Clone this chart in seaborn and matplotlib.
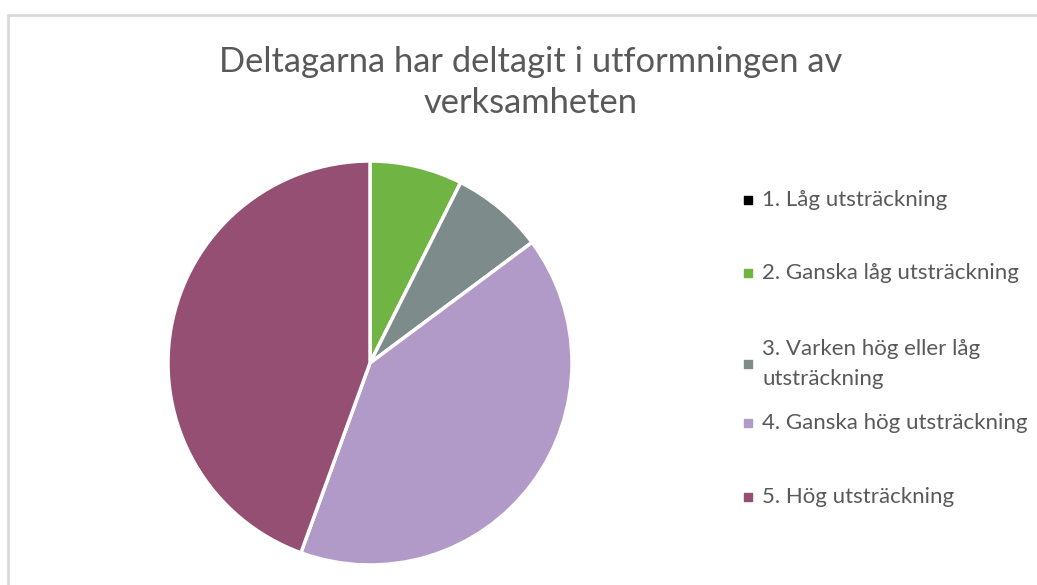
import matplotlib
matplotlib.use("Agg")
import matplotlib.pyplot as plt
import seaborn as sns

# data
categories = [
    "1. Låg utsträckning",
    "2. Ganska låg utsträckning",
    "3. Varken hög eller låg\nutsträckning",
    "4. Ganska hög utsträckning",
    "5. Hög utsträckning",
]
counts = [0, 2, 2, 11, 12]
slice_colors = ["#000000", "#70B443", "#7E8B8B", "#B19AC8", "#954F72"]
title_lines = ["Deltagarna har deltagit i utformningen av", "verksamheten"]

sns.set_theme(style="white")
plt.rcParams["font.family"] = ["Lato", "DejaVu Sans"]
palette = sns.color_palette(slice_colors)
text_col = "#595959"

W, H = 1037, 585
fig = plt.figure(figsize=(W / 100, H / 100), dpi=100)

# overlay axes in pixel coordinates for frame, title and legend
ov = fig.add_axes([0, 0, 1, 1])
ov.set_xlim(0, W)
ov.set_ylim(H, 0)
ov.axis("off")
ov.plot([8, 8], [15, H + 10], color="#d9d9d9", lw=2)
ov.plot([8, W + 10], [15, 15], color="#d9d9d9", lw=2)

ov.text(531, 72, title_lines[0], ha="center", va="baseline",
        fontsize=24.8, color=text_col)
ov.text(531, 113, title_lines[1], ha="center", va="baseline",
        fontsize=24.8, color=text_col)

# pie
cx, cy, r = 370, 363, 202
ax = fig.add_axes([(cx - r) / W, (H - cy - r) / H, 2 * r / W, 2 * r / H])
ax.pie(counts, colors=palette, startangle=90, counterclock=False,
       wedgeprops=dict(edgecolor="white", linewidth=2.5))
ax.set_xlim(-1, 1)
ax.set_ylim(-1, 1)
ax.set_aspect("equal")

# legend, placed manually
leg_y = [200, 273, 364, 423, 497]
for lab, col, y in zip(categories, palette, leg_y):
    ov.scatter([748], [y], marker="s", s=30, color=col)
    ov.text(762, y, lab, ha="left", va="center", fontsize=16,
            color=text_col, linespacing=1.6)

fig.savefig("out.png", dpi=100)
